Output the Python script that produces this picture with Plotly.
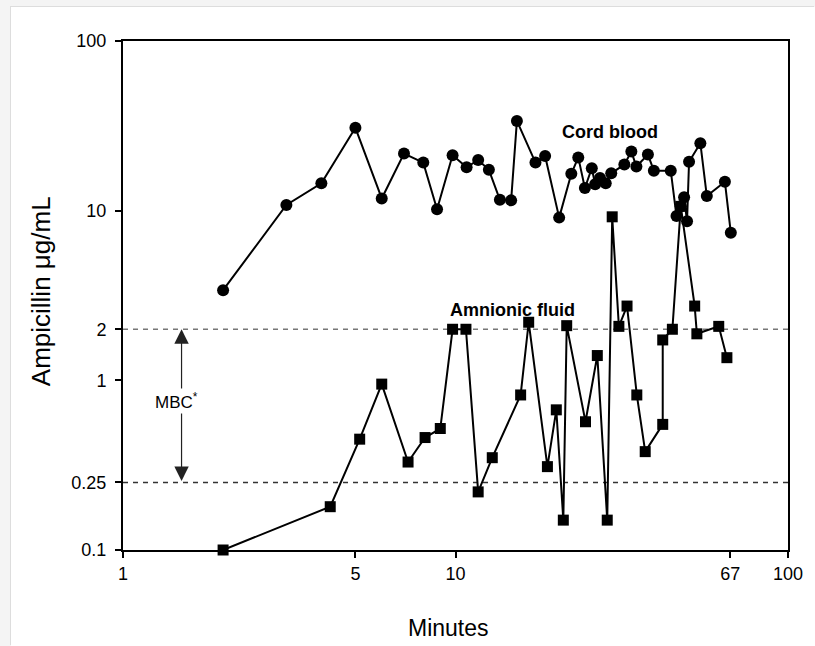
import math
import plotly.graph_objects as go

# ---- data ----
cord_minutes = [2.0, 3.1, 3.95, 5.0, 6.0, 7.0, 8.0, 8.8, 9.8, 10.8, 11.7, 12.6, 13.6, 14.7,
                15.3, 17.4, 18.6, 20.5, 22.3, 23.4, 24.5, 25.7, 26.3, 27.2, 28.3, 29.4,
                32.2, 33.8, 35.0, 37.9, 39.5, 44.4, 46.2, 47.6, 48.7, 49.7, 50.4, 54.5,
                57.0, 64.6, 67.3]
cord_ampicillin = [3.4, 10.8, 14.5, 30.8, 11.8, 21.7, 19.2, 10.2, 21.2, 18.0, 19.9, 17.4,
                   11.6, 11.5, 33.8, 19.2, 21.0, 9.1, 16.5, 20.6, 13.6, 17.8, 14.3, 15.6,
                   14.5, 16.6, 18.7, 22.3, 18.2, 21.4, 17.2, 17.2, 9.3, 10.6, 12.0, 8.65,
                   19.4, 25.0, 12.2, 14.8, 7.4]

amnio_minutes = [2.0, 4.2, 5.15, 6.0, 7.2, 8.1, 9.0, 9.8, 10.75, 11.7, 12.9, 15.7, 16.6,
                 18.9, 20.1, 21.1, 21.6, 24.6, 26.7, 28.6, 29.6, 31.0, 32.8, 35.1, 37.2,
                 42.0, 42.0, 44.9, 47.6, 52.4, 53.2, 61.9, 65.5]
amnio_ampicillin = [0.1, 0.18, 0.45, 0.95, 0.33, 0.46, 0.52, 2.0, 2.0, 0.22, 0.35, 0.82,
                    2.2, 0.31, 0.67, 0.15, 2.1, 0.57, 1.4, 0.15, 9.2, 2.08, 2.74, 0.82,
                    0.38, 0.55, 1.73, 2.0, 10.6, 2.74, 1.88, 2.08, 1.36]

mbc_low = 0.25
mbc_high = 2
x_ticks = [1, 5, 10, 67, 100]
x_ticktext = ["1", "5", "10", "67", "100"]
y_ticks = [0.1, 0.25, 1, 2, 10, 100]
y_ticktext = ["0.1", "0.25", "1", "2", "10", "100"]

FONT = "Liberation Sans, Arial, Helvetica, sans-serif"

fig = go.Figure()

# MBC reference lines
fig.add_trace(go.Scatter(x=[1, 100], y=[mbc_high, mbc_high], mode="lines",
                         line=dict(color="#777777", width=1.5, dash="5px,5px"),
                         hoverinfo="skip", showlegend=False))
fig.add_trace(go.Scatter(x=[1, 100], y=[mbc_low, mbc_low], mode="lines",
                         line=dict(color="#333333", width=1.5, dash="5px,5px"),
                         hoverinfo="skip", showlegend=False))

# Amnionic fluid
fig.add_trace(go.Scatter(x=amnio_minutes, y=amnio_ampicillin, mode="lines+markers",
                         name="Amnionic fluid",
                         line=dict(color="black", width=2),
                         marker=dict(symbol="square", size=11, color="black"),
                         cliponaxis=False, showlegend=False))
# Cord blood
fig.add_trace(go.Scatter(x=cord_minutes, y=cord_ampicillin, mode="lines+markers",
                         name="Cord blood",
                         line=dict(color="black", width=2),
                         marker=dict(symbol="circle", size=12, color="black"),
                         cliponaxis=False, showlegend=False))

# page layout: light-grey page edge (11 px left, 7 px top), figure fills the rest
OX, OY = 11, 7
PAGE_W, PAGE_H = 815, 646
W, H = PAGE_W - OX, PAGE_H - OY
PL, PR, PT, PB = 123, 797.7, 41, 550      # plot area in page pixels
ML, MR, MT, MB = PL - OX, PAGE_W - PR, PT - OY, PAGE_H - PB
PW, PH = PR - PL, PB - PT


def px(xp):
    return (xp - PL) / PW


def py(yp):
    return (PB - yp) / PH


annotations = [
    dict(x=math.log10(1.5), y=math.log10(mbc_high), ax=math.log10(1.5), ay=math.log10(mbc_low),
         xref="x", yref="y", axref="x", ayref="y", text="", showarrow=True,
         arrowhead=2, arrowsize=2.4, arrowwidth=1.2, arrowside="end+start",
         arrowcolor="#222222", standoff=0, startstandoff=0),
    dict(x=px(177), y=py(401), xref="paper", yref="paper", text="MBC<sup>*</sup>",
         showarrow=False, font=dict(family=FONT, size=17, color="black"),
         bgcolor="white", xanchor="center", yanchor="middle"),
    dict(x=px(617), y=py(132), xref="paper", yref="paper", text="<b>Cord blood</b>",
         showarrow=False, font=dict(family=FONT, size=18, color="black"),
         xanchor="center", yanchor="middle"),
    dict(x=px(518), y=py(310), xref="paper", yref="paper", text="<b>Amnionic fluid</b>",
         showarrow=False, font=dict(family=FONT, size=18, color="black"),
         xanchor="center", yanchor="middle"),
    dict(x=px(453), y=py(628), xref="paper", yref="paper", text="Minutes",
         showarrow=False, font=dict(family=FONT, size=23, color="black"),
         xanchor="center", yanchor="middle"),
    dict(x=px(40), y=py(291), xref="paper", yref="paper", text="Ampicillin μg/mL",
         showarrow=False, textangle=-90, font=dict(family=FONT, size=26, color="black"),
         xanchor="center", yanchor="middle"),
]

axis_common = dict(showgrid=False, zeroline=False, showline=True, linecolor="black",
                   linewidth=2, mirror=True, ticks="outside", ticklen=6, tickwidth=1.5,
                   tickcolor="black", tickfont=dict(family=FONT, size=18, color="black"))

fig.update_layout(
    width=W, height=H, autosize=False,
    margin=dict(l=ML, r=MR, t=MT, b=MB),
    paper_bgcolor="white", plot_bgcolor="white",
    xaxis=dict(type="log", range=[0, 2], tickvals=x_ticks, ticktext=x_ticktext,
               ticklabelstandoff=0, **axis_common),
    yaxis=dict(type="log", range=[-1, 2], tickvals=y_ticks, ticktext=y_ticktext,
               ticklabelstandoff=5, **axis_common),
    annotations=annotations,
    showlegend=False,
)

post = (
    "document.body.style.margin='0';"
    "document.body.style.overflow='hidden';"
    "document.body.style.background='#f4f4f4';"
    "var g=document.getElementById('{plot_id}');"
    "g.style.marginLeft='%dpx';g.style.marginTop='%dpx';"
    "g.style.boxShadow='-1px -1px 0 #dddddd';" % (OX, OY)
)

fig.write_html("out.html", config={"displayModeBar": False}, post_script=post)
